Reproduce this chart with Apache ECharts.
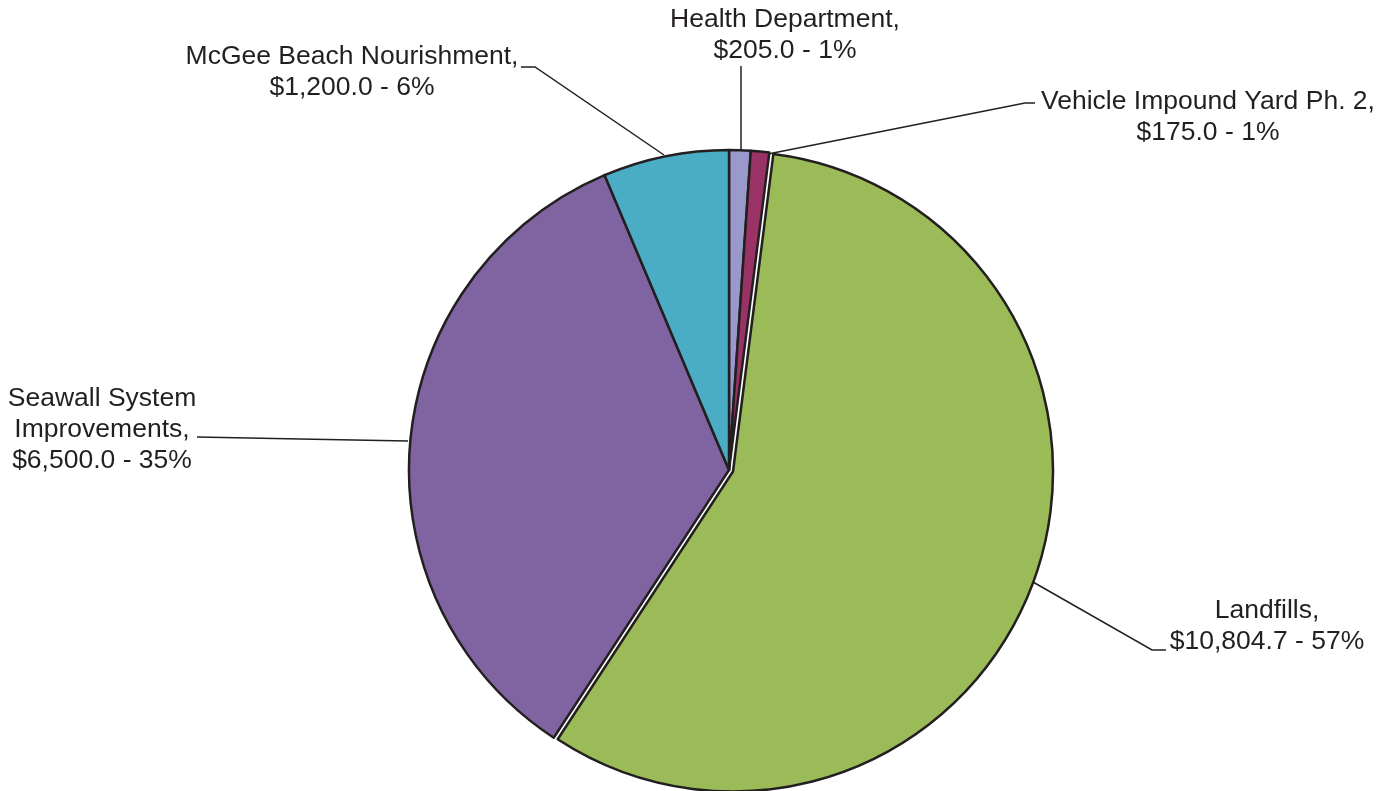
<!DOCTYPE html>
<html>
<head>
<meta charset="utf-8">
<script src="https://cdn.jsdelivr.net/npm/echarts@6/dist/echarts.min.js"></script>
<style>html,body{margin:0;padding:0;background:#fff;}#c{width:1382px;height:791px;}</style>
</head>
<body>
<div id="c"></div>
<script>
const categories = ['Health Department', 'Vehicle Impound Yard Ph. 2', 'Landfills', 'Seawall System Improvements', 'McGee Beach Nourishment'];
const values = [205.0, 175.0, 10804.7, 6500.0, 1200.0];
const percentLabels = ['1%', '1%', '57%', '35%', '6%'];
const labelLines = [
  ['Health Department,', '$205.0 - 1%'],
  ['Vehicle Impound Yard Ph. 2,', '$175.0 - 1%'],
  ['Landfills,', '$10,804.7 - 57%'],
  ['Seawall System', 'Improvements,', '$6,500.0 - 35%'],
  ['McGee Beach Nourishment,', '$1,200.0 - 6%']
];
const colors = ['#9999cc', '#993366', '#9bbb59', '#8064a2', '#4bacc6'];
const explodedIndex = 2;

// label placement (layout only)
const labelPos = [
  { x: 785, y: 35, lines: [[741, 151], [741, 110], [741, 66]] },
  { x: 1267, y: 117, lines: [[768, 154], [1025, 103], [1035, 103]] },
  { x: 1267, y: 626, lines: [[1033, 582], [1152, 650], [1166, 650]] },
  { x: 102, y: 430, lines: [[408, 441], [300, 439], [197, 437]] },
  { x: 352, y: 72, lines: [[664, 155], [535, 67], [521, 67]] }
];
labelPos[1].x = 1208;

const border = '#231f20';
const chart = echarts.init(document.getElementById('c'), null, { renderer: 'canvas' });

function baseSeries(center) {
  return {
    type: 'pie',
    center: center,
    radius: [0, 320],
    startAngle: 90,
    clockwise: true,
    silent: true,
    avoidLabelOverlap: false,
    emphasis: { disabled: true }
  };
}

chart.setOption({
  animation: false,
  backgroundColor: '#ffffff',
  series: [
    Object.assign(baseSeries([729, 470]), {
      label: {
        show: true,
        position: 'outside',
        fontFamily: '"Liberation Sans", Arial, sans-serif',
        fontSize: 26.5,
        lineHeight: 31,
        color: border,
        align: 'center',
        formatter: p => labelLines[p.dataIndex].join('\n')
      },
      labelLine: {
        show: true,
        lineStyle: { color: border, width: 1.5 },
        length: 10,
        length2: 10
      },
      labelLayout: function (params) {
        const lp = labelPos[params.dataIndex];
        return {
          x: lp.x,
          y: lp.y,
          align: 'center',
          verticalAlign: 'middle',
          labelLinePoints: lp.lines
        };
      },
      data: categories.map((name, i) => ({
        name: name,
        value: values[i],
        itemStyle: i === explodedIndex
          ? { color: 'rgba(0,0,0,0)', borderWidth: 0 }
          : { color: colors[i], borderColor: border, borderWidth: 2.5 }
      }))
    }),
    Object.assign(baseSeries([733, 471.5]), {
      label: { show: false },
      labelLine: { show: false },
      data: categories.map((name, i) => ({
        name: name,
        value: values[i],
        itemStyle: i === explodedIndex
          ? { color: colors[i], borderColor: border, borderWidth: 2.5 }
          : { color: 'rgba(0,0,0,0)', borderWidth: 0 }
      }))
    })
  ]
});
</script>
</body>
</html>
